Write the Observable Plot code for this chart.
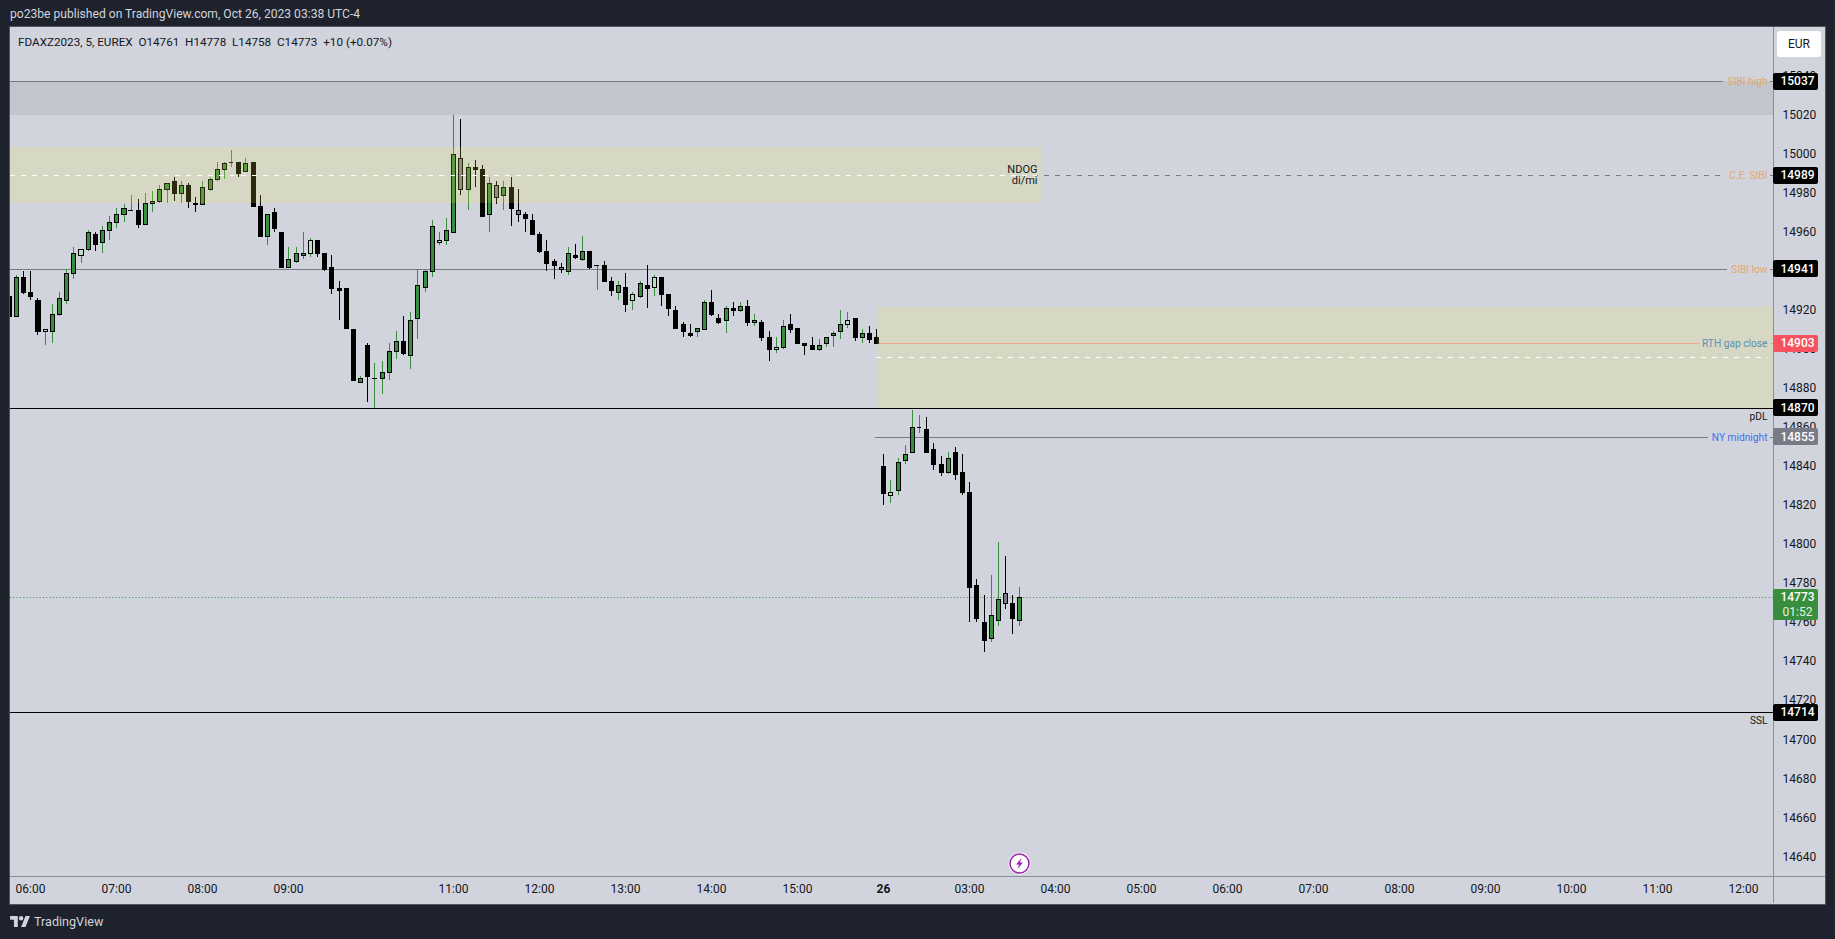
<!DOCTYPE html>
<html>
<head>
<meta charset="utf-8">
<script src="https://cdn.jsdelivr.net/npm/d3@7"></script>
<script src="https://cdn.jsdelivr.net/npm/@observablehq/plot@0.6"></script>
<style>
html,body{margin:0;padding:0;background:#1e222d;width:1835px;height:939px;overflow:hidden;font-family:Roboto,sans-serif}
#header{height:27px;line-height:29px;color:#d1d4dc;font-size:12.1px;padding-left:10px;box-sizing:border-box;white-space:pre}
#chart{position:relative;height:876px;width:1835px}
#panel{position:absolute;left:9px;top:-1px;width:1815px;height:877px;background:#d1d4dc;border:1px solid #50535e}
#vline{position:absolute;left:1773px;top:0;width:1px;height:876px;background:#8a8d98}
#hline{position:absolute;left:10px;top:849px;width:1815px;height:1px;background:#8a8d98}
#plotHost{position:absolute;left:0;top:0;width:1835px;height:876px}
#legend{position:absolute;left:18px;top:6px;font-size:11.7px;color:#131722;white-space:pre;line-height:18px}
#eur{position:absolute;left:1777px;top:4px;width:44px;height:26px;line-height:26px;background:#fff;border-radius:3px;text-align:center;font-size:12px;color:#131722}
#bolt{position:absolute;left:1008px;top:825px}
#footer{height:36px;display:flex;align-items:center;padding-left:10px;color:#d1d4dc;font-size:12.6px;box-sizing:border-box}
#footer svg{margin-right:4px}
</style>
</head>
<body>
<div id="header">po23be published on TradingView.com, Oct 26, 2023 03:38 UTC-4</div>
<div id="chart">
  <div id="panel"></div><div id="vline"></div><div id="hline"></div>
  <div id="plotHost"></div>
  <div id="legend">FDAXZ2023, 5, EUREX  O14761  H14778  L14758  C14773  +10 (+0.07%)</div>
  <div id="eur">EUR</div>
  <svg id="bolt" width="23" height="23" viewBox="0 0 23 23"><circle cx="11.5" cy="11.5" r="11" fill="#fff"/><circle cx="11.5" cy="11.5" r="9.5" fill="none" stroke="#9c27b0" stroke-width="1.6"/><path d="M13.5 6 8 12.5h3L9.500 17l5.500-6.500h-3Z" fill="#9c27b0"/></svg>
</div>
<div id="footer"><svg width="20" height="11" viewBox="0 0 36 20" fill="#d1d4dc"><path d="M14 20H7V7H0V0h14ZM28 20h-8l8-20h8Z"/><circle cx="20" cy="4" r="4"/></svg>TradingView</div>
<script>
// ---- candles, bar index counted from the 06:00 bar ----
const firstBar = -3;
const opens = [
14927,14917,14937,14929,14925,14909,14909,14918,14925,14939,
14948,14951,14959,14955,14961,14965,14969,14971,14971,14964,
14975,14976,14982,14986,14980,14984,14975,14974,14982,14987,
14992,14996,14996,14991,14996,14973,14958,14970,14960,14942,
14945,14948,14949,14956,14949,14942,14931,14931,14910,14883,
14902,14885,14885,14888,14899,14904,14897,14916,14932,14940,
14955,14956,14960,14998,14982,14993,14992,14969,14984,14979,
14983,14971,14969,14966,14959,14950,14945,14942,14940,14948,
14946,14950,14943,14943,14935,14929,14932,14925,14927,14933,
14932,14937,14928,14920,14913,14908,14909,14910,14924,14916,
14915,14921,14920,14922,14914,14914,14906,14900,14901,14913,
14911,14903,14902,14900,14903,14907,14909,14913,14916,14906,
14908,14906,14840,14825,14828,14843,14847,14860,14859,14849,
14841,14837,14847,14837,14827,14779,14760,14752,14761,14775,
14770,14761];
const highs = [
14927,14938,14940,14940,14926,14910,14923,14929,14941,14952,
14951,14961,14960,14963,14968,14972,14974,14979,14977,14980,
14981,14984,14985,14988,14986,14985,14978,14986,14988,14996,
14996,15002,14996,14998,14996,14979,14969,14972,14960,14952,
14952,14960,14957,14956,14949,14948,14935,14931,14910,14886,
14903,14893,14894,14903,14909,14917,14919,14941,14941,14966,
14960,14967,15020,15018,14995,14997,14994,14988,14986,14986,
14988,14982,14970,14969,14960,14956,14946,14944,14952,14954,
14958,14950,14943,14945,14937,14935,14939,14929,14935,14943,
14938,14937,14928,14922,14914,14913,14911,14925,14930,14918,
14922,14924,14924,14925,14918,14915,14909,14906,14915,14918,
14911,14903,14906,14905,14906,14909,14920,14919,14916,14910,
14912,14910,14846,14833,14844,14851,14869,14866,14865,14852,
14845,14847,14850,14846,14832,14782,14774,14784,14801,14794,
14774,14778];
const lows = [
14917,14917,14928,14925,14907,14902,14903,14917,14923,14936,
14944,14950,14950,14949,14956,14962,14965,14971,14962,14964,
14970,14975,14975,14976,14975,14972,14970,14974,14981,14986,
14987,14993,14988,14991,14973,14958,14953,14960,14942,14942,
14944,14946,14947,14947,14940,14928,14915,14911,14884,14883,
14873,14870,14877,14884,14895,14897,14890,14905,14929,14937,
14953,14953,14960,14979,14971,14983,14968,14960,14974,14971,
14963,14965,14960,14959,14949,14940,14936,14939,14938,14946,
14945,14941,14930,14935,14927,14925,14919,14920,14926,14921,
14927,14922,14917,14911,14906,14906,14906,14910,14917,14913,
14908,14917,14919,14912,14912,14904,14894,14898,14900,14908,
14903,14897,14900,14899,14901,14901,14905,14911,14904,14903,
14903,14903,14820,14821,14825,14841,14847,14857,14847,14838,
14835,14836,14833,14825,14760,14760,14745,14750,14758,14767,
14754,14758];
const closes = [
14917,14937,14929,14927,14909,14910,14918,14926,14939,14949,
14951,14960,14954,14961,14965,14969,14972,14971,14964,14975,
14976,14982,14985,14980,14984,14976,14974,14983,14987,14992,
14995,14996,14990,14995,14973,14958,14969,14962,14942,14946,
14949,14949,14956,14949,14941,14931,14930,14911,14884,14885,
14886,14885,14888,14899,14904,14898,14915,14933,14940,14963,
14956,14961,15000,14982,14993,14992,14968,14985,14978,14983,
14972,14969,14967,14959,14950,14944,14943,14941,14949,14947,
14950,14942,14943,14935,14930,14933,14923,14928,14934,14931,
14937,14928,14921,14911,14909,14907,14911,14924,14918,14914,
14921,14920,14922,14914,14915,14906,14900,14901,14912,14910,
14903,14902,14900,14902,14906,14908,14913,14915,14906,14908,
14905,14903,14826,14827,14842,14846,14860,14860,14847,14841,
14837,14844,14836,14827,14778,14762,14751,14764,14772,14770,
14762,14773];
// u = up, d = down, l = light up bar, g = grey bar
const kinds = ("dudddluuuu"+"luduuuuudu"+"uuududduuu"+"uududduddu"+"uulddddddu"+
  "duuuuduuuu"+"luuguddugu"+"dgdddddgud"+"ududdudlud"+"lddddduudd"+
  "udududdlud"+"ddduuuuldu"+"dddluuuudd"+"duddddduug"+"du").split("");

// ---- time axis ----
const timeTickBars = [0,12,24,36,59,71,83,95,107,131,143,155,167,179,191,203,215,227,239];
const timeTickLabels = ["06:00","07:00","08:00","09:00","11:00","12:00","13:00","14:00","15:00","03:00","04:00","05:00","06:00","07:00","08:00","09:00","10:00","11:00","12:00"];
const dayTickBar = [119];
const dayTickLabel = ["26"];

// ---- price axis ----
const priceTicks = [14640,14660,14680,14700,14720,14740,14760,14780,14800,14820,14840,14860,14880,14900,14920,14940,14960,14980,15000,15020,15040];

// ---- levels ----
const sibiHigh=15037, sibiLow=14941, ceSibi=14989, gapClose=14903, gapMid=14896, pdl=14870, nyMidnight=14855, ssl=14714, lastPrice=14773;
const zonePriceTop=[15037,15003.3,14921.4], zonePriceBottom=[15020,14974.6,14870];

// ---- axis extents in bar units ----
const xStart=-2.837, xEnd=243.15, tagEnd=249.39, tagMid=246.46, labelEnd=242.3, lineTail=242.75;
const zoneBarStart=118.1, ndogBar=141.1, ndogTextBar=140.5;

const colors={green:"#388e3c",light:"#b8e0c4",grey:"#787b86",black:"#000",ink:"#131722",sibi:"#e5a76f",rth:"#5b8eb8",ny:"#3f6fee",red:"#f7525f",pink:"#ef9a9a",zone:"#faeb4f"};

const bars = opens.map((o,k)=>({i:k+firstBar,o,h:highs[k],l:lows[k],c:closes[k],kind:kinds[k]}));
const bodyFill={u:colors.green,d:colors.black,l:colors.light,g:colors.grey};
const wickColor={u:colors.green,d:colors.black,l:colors.green,g:colors.black};

const zones=[
 {x1:xStart,x2:xEnd,y1:zonePriceBottom[0],y2:zonePriceTop[0],fill:colors.grey,a:.17},
 {x1:xStart,x2:ndogBar,y1:zonePriceBottom[1],y2:zonePriceTop[1],fill:colors.zone,a:.17},
 {x1:zoneBarStart,x2:xEnd,y1:zonePriceBottom[2],y2:zonePriceTop[2],fill:colors.zone,a:.17}
];
const greyLines=[
 {y:sibiHigh,x1:xStart,x2:236.2},{y:sibiHigh,x1:lineTail,x2:xEnd},
 {y:sibiLow,x1:xStart,x2:236.8},{y:sibiLow,x1:lineTail,x2:xEnd},
 {y:nyMidnight,x1:117.9,x2:234.1},{y:nyMidnight,x1:lineTail,x2:xEnd}
];
const ceLines=[{y:ceSibi,x1:xStart,x2:235.8},{y:ceSibi,x1:lineTail,x2:xEnd}];
const pinkLines=[{y:gapClose,x1:117.9,x2:233},{y:gapClose,x1:lineTail,x2:xEnd}];
const blackLines=[{y:pdl},{y:ssl}];
const labels=[
 {t:"SIBI high",y:sibiHigh,c:colors.sibi},{t:"C.E. SIBI",y:ceSibi,c:colors.sibi},{t:"SIBI low",y:sibiLow,c:colors.sibi},
 {t:"RTH gap close",y:gapClose,c:colors.rth},{t:"pDL",y:pdl-4.2,c:colors.ink},{t:"NY midnight",y:nyMidnight,c:colors.ny},{t:"SSL",y:ssl-4.2,c:colors.ink}
];
const tags=[
 {t:"15037",y:sibiHigh,c:colors.black},{t:"14989",y:ceSibi,c:colors.black},{t:"14941",y:sibiLow,c:colors.black},
 {t:"14903",y:gapClose,c:colors.red},{t:"14870",y:pdl,c:colors.black},{t:"14855",y:nyMidnight,c:colors.grey},{t:"14714",y:ssl,c:colors.black}
];
const tagHalf=4.35;
const tagFont="Roboto,sans-serif";

const chart = Plot.plot({
  width:1835, height:876,
  marginLeft:10, marginRight:62, marginTop:0, marginBottom:27,
  x:{domain:[xStart,xEnd],round:true,axis:null},
  y:{domain:[14630.1,15064.9],round:true,axis:null},
  style:{background:"transparent",fontFamily:tagFont,fontSize:"12px",overflow:"visible"},
  marks:[
    // lines under the candles
    Plot.ruleY(greyLines,{y:"y",x1:"x1",x2:"x2",stroke:colors.grey,strokeWidth:1}),
    Plot.ruleY(ceLines,{y:"y",x1:"x1",x2:"x2",stroke:colors.grey,strokeWidth:1,strokeDasharray:"5 6"}),
    Plot.ruleY(pinkLines,{y:"y",x1:"x1",x2:"x2",stroke:colors.pink,strokeWidth:1}),
    Plot.ruleY(blackLines,{y:"y",stroke:colors.black,strokeWidth:1}),
    Plot.ruleY([lastPrice],{stroke:colors.green,strokeWidth:1,strokeDasharray:"1 2.3"}),
    // candles
    Plot.ruleX(bars,{x:"i",y1:"l",y2:"h",stroke:d=>wickColor[d.kind],strokeWidth:1,clip:true}),
    Plot.rect(bars.filter(d=>d.o!==d.c),{x1:d=>d.i-.28,x2:d=>d.i+.28,y1:"o",y2:"c",fill:d=>bodyFill[d.kind],stroke:colors.black,strokeWidth:1,dx:.5,dy:.5,clip:true}),
    Plot.ruleY(bars.filter(d=>d.o===d.c),{y:"o",x1:d=>d.i-.33,x2:d=>d.i+.33,stroke:colors.black,strokeWidth:1}),
    // zones
    Plot.rect(zones,{x1:"x1",x2:"x2",y1:"y1",y2:"y2",fill:"fill",fillOpacity:"a"}),
    // white dashes over the candles
    Plot.ruleY([ceSibi],{x1:xStart,x2:140.5,stroke:"#fff",strokeWidth:1,strokeDasharray:"5 6"}),
    Plot.ruleY([gapMid],{x1:118,x2:242.5,stroke:"#fff",strokeWidth:1,strokeDasharray:"5 6"}),
    // axes
    Plot.axisY({anchor:"right",ticks:priceTicks,tickSize:0,tickPadding:9,tickFormat:d=>String(d),label:null,fontSize:12,fill:colors.ink}),
    Plot.axisX({anchor:"bottom",ticks:timeTickBars,tickSize:0,tickPadding:7.5,tickFormat:d=>timeTickLabels[timeTickBars.indexOf(d)],label:null,fontSize:12,fill:colors.ink}),
    Plot.axisX({anchor:"bottom",ticks:dayTickBar,tickSize:0,tickPadding:7.5,tickFormat:d=>dayTickLabel[dayTickBar.indexOf(d)],label:null,fontSize:12,fontWeight:700,fill:colors.ink}),
    // level labels
    Plot.text(labels,{x:labelEnd,y:"y",text:"t",fill:"c",textAnchor:"end",fontSize:10.2}),
    Plot.text(["NDOG\ndi/mi"],{x:ndogTextBar,y:14989.4,textAnchor:"end",fill:colors.ink,fontSize:11,lineHeight:1}),
    // price tags
    Plot.rect(tags,{x1:xEnd,x2:tagEnd,y1:d=>d.y-tagHalf,y2:d=>d.y+tagHalf,fill:"c",rx:2}),
    Plot.text(tags,{x:tagMid,y:"y",text:"t",fill:"#fff",fontWeight:500,fontSize:12}),
    Plot.rect([{y1:14761.2,y2:14777.1}],{x1:xEnd,x2:tagEnd,y1:"y1",y2:"y2",fill:colors.green,rx:2}),
    Plot.text(["14773"],{x:tagMid,y:lastPrice,fill:"#fff",fontWeight:500,fontSize:12}),
    Plot.text(["01:52"],{x:tagMid,y:14765.5,fill:"#e4f2e5",fontWeight:400,fontSize:12})
  ]
});
document.getElementById("plotHost").appendChild(chart);
</script>
</body>
</html>
